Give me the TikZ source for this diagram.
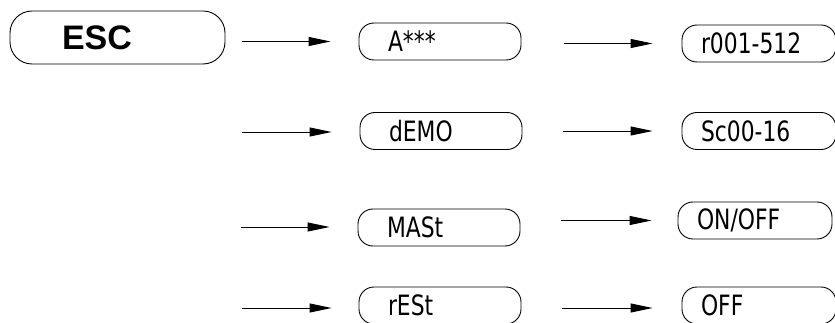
\documentclass[tikz,border=0pt]{standalone}
\usepackage{fontspec}
\usepackage{tikz}
\usetikzlibrary{positioning,arrows.meta}
\setmainfont{Liberation Sans}
\newfontfamily\segfont[FakeStretch=0.78]{DejaVu Sans}

\begin{document}
\begin{tikzpicture}[x=1pt,y=-1pt]
    \tikzstyle{disp} = [draw,rectangle,rounded corners=15pt,line width=0.9pt,minimum height=37pt,inner sep=0pt]
    \tikzstyle{escbox} = [disp,rounded corners=22pt,minimum width=215pt,minimum height=53pt,text width=111pt,align=left,font=\bfseries\fontsize{34}{36}\selectfont]
    \tikzstyle{mid} = [disp,minimum width=162pt,text width=104pt,align=left,font=\segfont\fontsize{28}{28}\selectfont]
    \tikzstyle{val} = [disp,minimum width=154pt,text width=116pt,align=left,font=\segfont\fontsize{28}{28}\selectfont]
    \tikzstyle{flow} = [line width=0.9pt,-{Triangle[length=22pt,width=9pt]}]
    \useasboundingbox (0,0) rectangle (835,323);
    % column 1
    \node[escbox] (esc) at (117.5,37.5) {ESC};
    \coordinate (in2) at (242,132);
    \coordinate (in3) at (241,227);
    \coordinate (in4) at (242,308);
    % column 2
    \node[mid] (amode) at (440,41.5) {A***};
    \node[mid] (demo) at (441,131) {dEMO};
    \node[mid] (mast) at (439,227.5) {MASt};
    \node[mid] (rest) at (440,305.5) {rESt};
    % column 3
    \node[val] (addr) at (759,43.5) {r001-512};
    \node[val] (scene) at (759,131) {Sc00-16};
    \node[val] (onoff) at (755,220.5) {ON/OFF};
    \node[val] (off) at (759,305.5) {OFF};
    % arrows
    \draw[flow,shorten <=17pt,shorten >=28pt] (esc.east |- amode) -- (amode.west);
    \draw[flow,shorten >=28pt] (in2) -- (demo.west |- in2);
    \draw[flow,shorten >=28pt] (in3) -- (mast.west |- in3);
    \draw[flow,shorten >=27pt] (in4) -- (rest.west |- in4);
    \draw[flow,shorten <=43pt,shorten >=29pt] (amode.east |- addr) -- (addr.west);
    \draw[flow,shorten <=41pt,shorten >=29pt] (demo.east |- scene) -- (scene.west);
    \draw[flow,shorten <=41pt,shorten >=26pt] (mast.east |- onoff) -- (onoff.west);
    \draw[flow,shorten <=41pt,shorten >=29pt] (rest.east |- in4) -- (off.west |- in4);
\end{tikzpicture}
\end{document}
